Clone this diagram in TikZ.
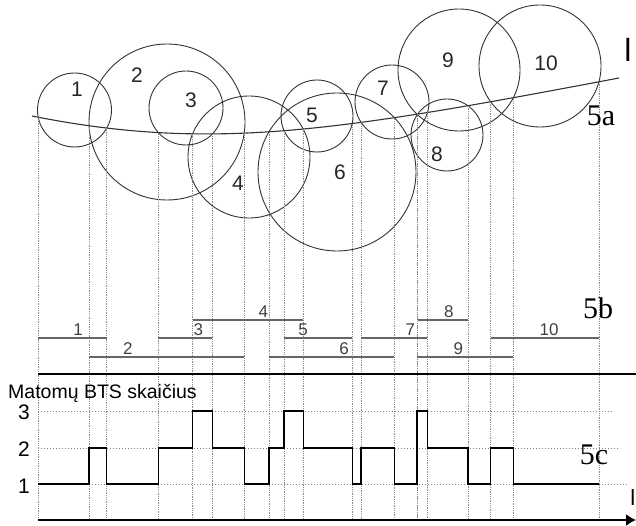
\documentclass[tikz,border=0pt]{standalone}
\usepackage{fontspec}
\setmainfont{Liberation Serif}
\setsansfont{Liberation Sans}
\usetikzlibrary{arrows.meta,intersections}

\begin{document}
\begin{tikzpicture}[
  x=1pt, y=-1pt,
  >={Latex[length=10pt,width=12pt]},
  circ/.style={draw=black!80, line width=.9pt},
  vline/.style={draw=black!45, line width=.7pt, dash pattern=on .9pt off .9pt},
  hlevel/.style={draw=black!50, line width=.8pt, dash pattern=on 1pt off 2pt},
  bar/.style={draw=black!60, line width=1.2pt},
  num/.style={font=\sffamily\fontsize{21}{21}\selectfont, text=black!85, inner sep=0pt},
  barnum/.style={font=\sffamily\fontsize{17}{17}\selectfont, text=black!75, above, inner sep=2pt},
  part/.style={font=\fontsize{30}{30}\selectfont, inner sep=0pt}
]
\useasboundingbox (0,0) rectangle (636,526);

% levels used below
\coordinate (lvA) at (0,320);
\coordinate (lvB) at (0,338);
\coordinate (lvC) at (0,357);
\coordinate (sep) at (0,374);
\coordinate (k3) at (0,411);
\coordinate (k2) at (0,448);
\coordinate (k1) at (0,484);
\coordinate (base) at (0,520);

% 5a: cells and the route
\draw[draw=black!80, line width=1.1pt, name path global=curve]
  (32,116) .. controls (212,152) and (339,131) .. (619,78);
\foreach \n/\cx/\cy/\r in {1/74.5/110/37, 2/167/122/78, 3/186/108/37,
    4/249/157/61, 5/317/116/36, 6/337/172/79, 7/392/102/37,
    8/447/135/36, 9/459/70/61, 10/540/66/61}
  \draw[circ, name path global=c\n] (\cx,\cy) circle[radius=\r];

\foreach \n in {1,...,10}
  \path[name intersections={of=curve and c\n, name=c\n, sort by=curve}];

\foreach \n in {1,...,10} {
  \draw[vline] (c\n-1) -- (c\n-1 |- base);
  \draw[vline] (c\n-2) -- (c\n-2 |- base);
}

\node[num] (n1) at (77,89) {1};
\node[num] (n2) at (137,75) {2};
\node[num] (n3) at (191,100) {3};
\node[num] (n4) at (238,183) {4};
\node[num] (n5) at (312,115) {5};
\node[num] (n6) at (340,172) {6};
\node[num] (n7) at (383,88) {7};
\node[num] (n8) at (437,154) {8};
\node[num] (n9) at (448,60) {9};
\node[num] (n10) at (546,63) {10};
\node[font=\sffamily\fontsize{32}{32}\selectfont, inner sep=0pt] (lname) at (628,50) {l};
\node[part] (p5a) at (601,116) {5a};

% 5b: visibility intervals
\draw[bar] (c1-1 |- lvB) -- node[barnum, pos=.58] {1} (c1-2 |- lvB);
\draw[bar] (c2-1 |- lvC) -- node[barnum, pos=.25] {2} (c2-2 |- lvC);
\draw[bar] (c3-1 |- lvB) -- node[barnum, pos=.74] {3} (c3-2 |- lvB);
\draw[bar] (c4-1 |- lvA) -- node[barnum, pos=.64] {4} (c4-2 |- lvA);
\draw[bar] (c5-1 |- lvB) -- node[barnum, pos=.28] {5} (c5-2 |- lvB);
\draw[bar] (c6-1 |- lvC) -- node[barnum, pos=.60] {6} (c6-2 |- lvC);
\draw[bar] (c7-1 |- lvB) -- node[barnum, pos=.74] {7} (c7-2 |- lvB);
\draw[bar] (c8-1 |- lvA) -- node[barnum, pos=.62] {8} (c8-2 |- lvA);
\draw[bar] (c9-1 |- lvC) -- node[barnum, pos=.43] {9} (c9-2 |- lvC);
\draw[bar] (c10-1 |- lvB) -- node[barnum, pos=.54] {10} (c10-2 |- lvB);
\node[part] (p5b) at (598,308) {5b};

\draw[line width=1.6pt] (c1-1 |- sep) -- (636,374);

% 5c: number of visible BTS
\node[font=\sffamily\fontsize{19.5}{19.5}\selectfont, anchor=base west, inner sep=0pt]
  (ttl) at (8,398) {Matomų BTS skaičius};
\draw[hlevel] (c1-1 |- k3) -- (613,411);
\draw[hlevel] (c1-1 |- k2) -- (620,448);
\draw[hlevel] (c1-1 |- k1) -- (628,484);
\node[num, text=black] (y3) at (24,412) {3};
\node[num, text=black] (y2) at (24,449) {2};
\node[num, text=black] (y1) at (24,486) {1};

\draw[line width=1.3pt]
  (c1-1 |- k1) -| (c2-1 |- k2) -| (c1-2 |- k1) -| (c3-1 |- k2)
  -| (c4-1 |- k3) -| (c3-2 |- k2) -| (c2-2 |- k1) -| (c6-1 |- k2)
  -| (c5-1 |- k3) -| (c4-2 |- k2) -| (c5-2 |- k1) -| (c7-1 |- k2)
  -| (c6-2 |- k1) -| (c9-1 |- k3) -| (c7-2 |- k2) -| (c8-2 |- k1)
  -| (c10-1 |- k2) -| (c9-2 |- k1) -- (c10-2 |- k1);
\node[part] (p5c) at (594,455) {5c};

\draw[->, line width=1.6pt] (c1-1 |- base) -- (636,520);
\node[font=\sffamily\fontsize{22}{22}\selectfont, anchor=south east, inner sep=0pt]
  (tname) at (635.5,506) {l};
\end{tikzpicture}
\end{document}
